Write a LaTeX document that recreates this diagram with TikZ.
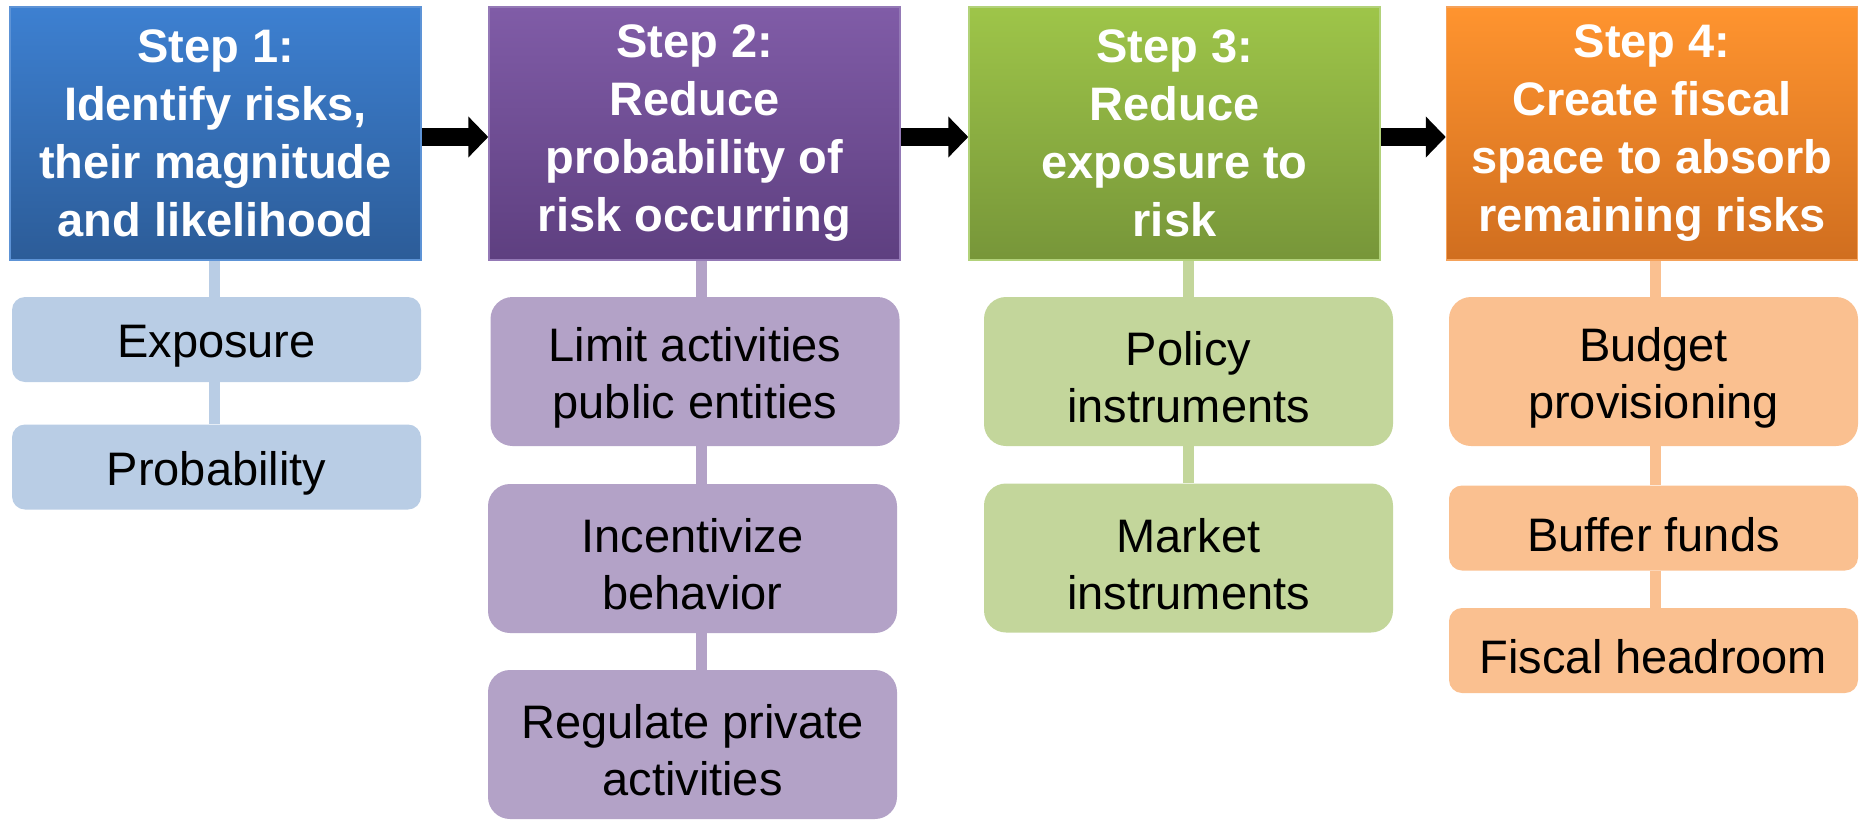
\documentclass[tikz,border=0pt]{standalone}
\usepackage{fontspec}
\setmainfont{Liberation Sans}
\usetikzlibrary{arrows.meta}

% header gradients
\definecolor{blueTop}{HTML}{3D80D1}
\definecolor{blueBot}{HTML}{2C5C98}
\definecolor{blueEdge}{HTML}{5D93D6}
\definecolor{purpTop}{HTML}{805CA7}
\definecolor{purpBot}{HTML}{5E3F80}
\definecolor{purpEdge}{HTML}{9479B6}
\definecolor{grnTop}{HTML}{9EC549}
\definecolor{grnBot}{HTML}{779639}
\definecolor{grnEdge}{HTML}{B2D27A}
\definecolor{orgTop}{HTML}{FF942F}
\definecolor{orgBot}{HTML}{D06E1F}
\definecolor{orgEdge}{HTML}{F5A25A}
% item fills
\definecolor{blueItem}{HTML}{B9CDE5}
\definecolor{purpItem}{HTML}{B3A2C7}
\definecolor{grnItem}{HTML}{C3D69B}
\definecolor{orgItem}{HTML}{FAC090}

\begin{document}
\begin{tikzpicture}[x=1pt,y=-1pt,
  header/.style={rectangle, minimum width=411pt, minimum height=253pt,
    inner sep=0pt, align=center, text=white, line width=1.5pt,
    font=\bfseries\fontsize{47}{58}\selectfont},
  item/.style={rectangle, minimum width=409pt, inner sep=0pt},
  tall/.style={item, minimum height=149pt, rounded corners=22pt},
  short/.style={item, minimum height=85pt, rounded corners=13pt},
  itemtext/.style={inner sep=0pt, align=center, text=black,
    font=\fontsize{47}{57}\selectfont},
  link/.style={line width=11pt},
  flow/.style={line width=18pt, draw=black, -{Triangle[width=40pt,length=20pt]}}
]
\useasboundingbox (0,0) rectangle (1865,822);

% step headers
\node[header, top color=blueTop, bottom color=blueBot, draw=blueEdge] (h1) at (215.5,133.5)
  {Step 1:\\Identify risks,\\their magnitude\\and likelihood};
\node[header, top color=purpTop, bottom color=purpBot, draw=purpEdge] (h2) at (694.5,133.5)
  {Step 2:\\Reduce\\probability of\\risk occurring};
\node[header, top color=grnTop, bottom color=grnBot, draw=grnEdge] (h3) at (1174.5,133.5)
  {Step 3:\\Reduce\\exposure to\\risk};
\node[header, top color=orgTop, bottom color=orgBot, draw=orgEdge] (h4) at (1652,133.5)
  {Step 4:\\Create fiscal\\space to absorb\\remaining risks};

% item boxes of step 1
\node[short, fill=blueItem] (s11) at (216.5,339.5) {};
\node[short, fill=blueItem] (s12) at (216.5,467) {};
% item boxes of step 2
\node[tall, fill=purpItem] (s21) at (695,371.5) {};
\node[tall, fill=purpItem] (s22) at (692.5,558.5) {};
\node[tall, fill=purpItem] (s23) at (692.5,744.5) {};
% item boxes of step 3
\node[tall, fill=grnItem] (s31) at (1188.5,371.5) {};
\node[tall, fill=grnItem] (s32) at (1188.5,558) {};
% item boxes of step 4
\node[tall, fill=orgItem] (s41) at (1653.5,371.5) {};
\node[short, fill=orgItem] (s42) at (1653.5,528) {};
\node[short, fill=orgItem] (s43) at (1653.5,650.5) {};

% item labels, set a little below each box centre
\node[itemtext] (t11) at ([yshift=-6.5pt]s11.center) {Exposure};
\node[itemtext] (t12) at ([yshift=-6.5pt]s12.center) {Probability};
\node[itemtext] (t21) at ([yshift=-6pt]s21.center) {Limit activities\\public entities};
\node[itemtext] (t22) at ([yshift=-6pt]s22.center) {Incentivize\\behavior};
\node[itemtext] (t23) at ([yshift=-6pt]s23.center) {Regulate private\\activities};
\node[itemtext] (t31) at ([yshift=-6pt]s31.center) {Policy\\instruments};
\node[itemtext] (t32) at ([yshift=-6pt]s32.center) {Market\\instruments};
\node[itemtext] (t41) at ([yshift=-6pt]s41.center) {Budget\\provisioning};
\node[itemtext] (t42) at ([yshift=-6.5pt]s42.center) {Buffer funds};
\node[itemtext] (t43) at ([yshift=-6.5pt]s43.center) {Fiscal headroom};

% vertical spines of each column
\coordinate (c1) at (214,0);
\coordinate (c2) at (701,0);
\coordinate (c3) at (1188,0);
\coordinate (c4) at (1655,0);

\draw[link, blueItem] (h1.south -| c1) -- (s11.north -| c1);
\draw[link, blueItem] (s11.south -| c1) -- (s12.north -| c1);

\draw[link, purpItem] (h2.south -| c2) -- (s21.north -| c2);
\draw[link, purpItem] (s21.south -| c2) -- (s22.north -| c2);
\draw[link, purpItem] (s22.south -| c2) -- (s23.north -| c2);

\draw[link, grnItem] (h3.south -| c3) -- (s31.north -| c3);
\draw[link, grnItem] (s31.south -| c3) -- (s32.north -| c3);

\draw[link, orgItem] (h4.south -| c4) -- (s41.north -| c4);
\draw[link, orgItem] (s41.south -| c4) -- (s42.north -| c4);
\draw[link, orgItem] (s42.south -| c4) -- (s43.north -| c4);

% block arrows between steps
\draw[flow] ([yshift=-3.5pt]h1.east) -- ([yshift=-3.5pt]h2.west);
\draw[flow] ([yshift=-3.5pt]h2.east) -- ([yshift=-3.5pt]h3.west);
\draw[flow] ([yshift=-3.5pt]h3.east) -- ([yshift=-3.5pt]h4.west);
\end{tikzpicture}
\end{document}
